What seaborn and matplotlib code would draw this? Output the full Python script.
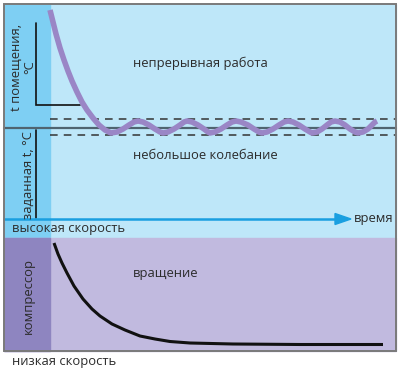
import matplotlib
matplotlib.use("Agg")
import matplotlib.pyplot as plt
from matplotlib.patches import Rectangle, Polygon
import seaborn as sns
import pandas as pd

# ---- data (pixel-like units, y downwards) ----
room_x = [50, 53, 56, 60, 64, 68, 72, 77, 82, 87, 93, 99, 105, 111,
          117, 123, 129, 134, 138, 143, 149, 155, 160, 163,
          168, 174, 180, 184, 187, 192, 198, 204, 208, 210,
          215, 221, 227, 232, 236, 241, 248, 254, 259, 262,
          267, 273, 279, 284, 288, 293, 299, 305, 310, 312,
          317, 322, 327, 331, 335, 340, 345, 350, 355, 358,
          363, 368, 372, 375, 377]
room_y = [10, 22, 34, 48, 60, 71, 81, 92, 102, 110, 118, 125, 130, 133,
          132, 129, 125, 122, 121, 122, 125, 129, 132, 133,
          132, 129, 125, 122, 121, 122, 125, 129, 132, 133,
          132, 129, 125, 122, 121, 122, 125, 129, 132, 133,
          132, 129, 125, 122, 121, 122, 125, 129, 132, 133,
          132, 129, 125, 122, 121, 122, 125, 129, 132, 133,
          132, 129, 125, 122, 121]

comp_x = [54, 58, 62, 67, 74, 83, 92, 100, 112, 125, 140, 155, 170, 190, 233, 300, 383]
comp_y = [243, 254, 263, 273, 286, 299, 309, 316, 324, 330, 336, 339, 341.5, 343, 344, 344.5, 344.5]

setpoint_y = [128]
band_y = [119, 135]

sns.set_theme(style="white")
plt.rcParams['font.family'] = ['Open Sans', 'DejaVu Sans']

TOP_BG = "#bee7f9"
TOP_STRIP = "#7ecff3"
BOT_BG = "#c1badf"
BOT_STRIP = "#8e85c0"
WAVE = "#9a86c6"
ARROW = "#1a9fe0"
TXT = "#2b2b2b"

fig = plt.figure(figsize=(4.0, 3.74), dpi=100)
ax = fig.add_axes([0, 0, 1, 1])

L, R, T, M, B, S = 4, 396, 4, 238, 351, 50
ax.add_patch(Rectangle((L, T), R - L, M - T, color=TOP_BG, zorder=0))
ax.add_patch(Rectangle((L, T), S - L, M - T, color=TOP_STRIP, zorder=0))
ax.add_patch(Rectangle((L, M), R - L, B - M, color=BOT_BG, zorder=0))
ax.add_patch(Rectangle((L, M), S - L, B - M, color=BOT_STRIP, zorder=0))
ax.add_patch(Rectangle((L, T), R - L, B - T, fill=False, ec="#7a7a7a", lw=1.4, zorder=5))

# setpoint and band
ax.plot([L, R], [setpoint_y[0]] * 2, color="#4f6470", lw=1.6, zorder=2)
for yb in band_y:
    ax.plot([S, R], [yb, yb], color="#333333", lw=1.1, dashes=(5, 4), zorder=2)

# small axes
ax.plot([36, 36, 80], [23, 105, 105], color="#111111", lw=1.2, zorder=2, solid_joinstyle="miter")
ax.plot([36, 36], [130, 218], color="#111111", lw=1.2, zorder=2)

# time arrow
ax.plot([L, 337], [219, 219], color=ARROW, lw=1.8, zorder=3)
ax.add_patch(Polygon([[335, 213.5], [351, 219], [335, 224.5]], closed=True, color=ARROW, zorder=3))

df_room = pd.DataFrame({"x": room_x, "y": room_y})
sns.lineplot(data=df_room, x="x", y="y", sort=False, estimator=None, ax=ax,
             color=WAVE, lw=4.0, zorder=4, solid_capstyle="butt")
df_comp = pd.DataFrame({"x": comp_x, "y": comp_y})
sns.lineplot(data=df_comp, x="x", y="y", sort=False, estimator=None, ax=ax,
             color="#111111", lw=2.2, zorder=4, solid_capstyle="butt")
ax.set_xlim(0, 400)
ax.set_ylim(374, 0)
ax.axis("off")

fs = 9.4
ax.text(133, 63, "непрерывная работа", fontsize=fs, color=TXT, va="center", ha="left")
ax.text(133, 155, "небольшое колебание", fontsize=fs, color=TXT, va="center", ha="left")
ax.text(133, 273, "вращение", fontsize=fs, color=TXT, va="center", ha="left")
ax.text(12, 228, "высокая скорость", fontsize=fs, color=TXT, va="center", ha="left")
ax.text(12, 362, "низкая скорость", fontsize=fs, color=TXT, va="center", ha="left")
ax.text(354, 218, "время", fontsize=fs, color=TXT, va="center", ha="left")
ax.text(23, 67, "t помещения,\n°C", fontsize=fs, color=TXT, rotation=90,
        va="center", ha="center", multialignment="center", linespacing=1.0)
ax.text(28, 175, "заданная t, °C", fontsize=fs, color=TXT, rotation=90, va="center", ha="center")
ax.text(28, 296, "компрессор", fontsize=fs, color=TXT, rotation=90, va="center", ha="center")

fig.savefig("out.png", dpi=100)
